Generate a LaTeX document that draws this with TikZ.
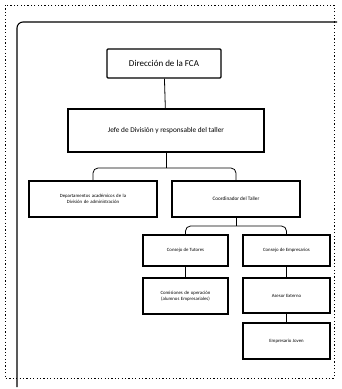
\documentclass[tikz,border=0pt]{standalone}
\usepackage{fontspec}
\setmainfont{Carlito}
\usetikzlibrary{calc}
\tikzset{
  orgbox/.style={draw, line width=1.1pt, inner sep=1pt, align=center},
  link/.style={line width=0.8pt},
}

\begin{document}
\begin{tikzpicture}[x=1pt, y=-1pt]
		%%%%% START %%%%%
		\useasboundingbox (0, 0) rectangle (342, 389);
		
		\draw[line width=0.9pt, dash pattern=on 1.2pt off 2.2pt] (5, 5) rectangle (334, 378);
		\draw[line width=1.1pt, rounded corners=6pt] (17, 387) -- (17, 22) -- (337, 22);
		
		\node[orgbox, rounded corners=1pt, minimum width=114pt, minimum height=29pt, font=\fontsize{9}{10}\selectfont] (dir) at (164, 63.5) {Dirección de la FCA};
		\node[orgbox, minimum width=196pt, minimum height=43pt, font=\fontsize{7.3}{8}\selectfont] (jefe) at (166, 130.5) {Jefe de División y responsable del taller};
		
		\node[orgbox, minimum width=128pt, minimum height=36pt, text width=122pt, font=\fontsize{4.8}{6}\selectfont] (depto) at (93, 199) {Departamentos académicos de la\\División de administración};
		\node[orgbox, minimum width=128pt, minimum height=36pt, font=\fontsize{5.2}{6}\selectfont] (coord) at (236, 199) {Coordinador del Taller};
		
		\node[orgbox, minimum width=85pt, minimum height=31pt, font=\fontsize{4.8}{6}\selectfont] (tutores) at (185.5, 250.5) {Consejo de Tutores};
		\node[orgbox, minimum width=87pt, minimum height=31pt, font=\fontsize{4.8}{6}\selectfont] (empres) at (286.5, 250.5) {Consejo de Empresarios};
		
		\node[orgbox, minimum width=85pt, minimum height=36pt, text width=80pt, font=\fontsize{4.8}{6}\selectfont] (comis) at (185.5, 296) {Comisiones de operación\\(alumnos Empresariales)};
		\node[orgbox, minimum width=87pt, minimum height=35pt, font=\fontsize{4.8}{6}\selectfont] (asesor) at (286.5, 295.5) {Asesor Externo};
		\node[orgbox, minimum width=87pt, minimum height=36pt, font=\fontsize{4.8}{6}\selectfont] (joven) at (286.5, 341) {Empresario Joven};
		
		\coordinate (fork1) at (166, 168);
		\coordinate (fork2) at (236, 226);
		
		\draw[link] (dir) -- (jefe);
		\draw[link] (jefe.south) -- (fork1);
		\draw[link, rounded corners=5pt] (depto.north) |- (fork1) -| (coord.north);
		\draw[link] (coord.south) -- (fork2);
		\draw[link, rounded corners=5pt] (tutores.north) |- (fork2) -| (empres.north);
		\draw[link] (tutores) -- (comis);
		\draw[link] (empres) -- (asesor);
		\draw[link] (asesor) -- (joven);
		
		%%%%% END %%%%%
	\end{tikzpicture}
\end{document}
